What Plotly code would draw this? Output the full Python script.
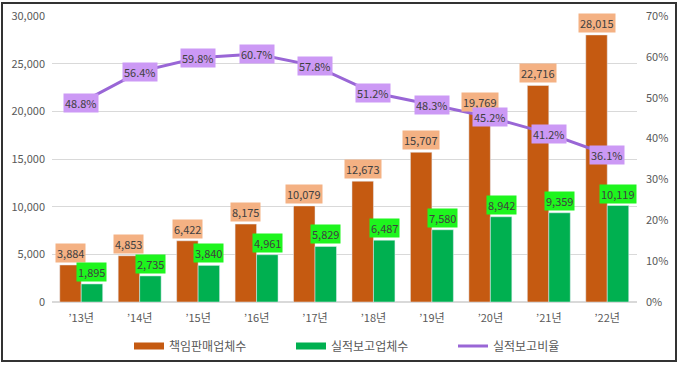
import plotly.graph_objects as go

years = ["’13년", "’14년", "’15년", "’16년", "’17년", "’18년", "’19년", "’20년", "’21년", "’22년"]
total = [3884, 4853, 6422, 8175, 10079, 12673, 15707, 19769, 22716, 28015]
reported = [1895, 2735, 3840, 4961, 5829, 6487, 7580, 8942, 9359, 10119]
ratio = [48.8, 56.4, 59.8, 60.7, 57.8, 51.2, 48.3, 45.2, 41.2, 36.1]

name_total = "책임판매업체수"
name_rep = "실적보고업체수"
name_ratio = "실적보고비율"

C_OR = "#C55A11"
C_GR = "#00B050"
C_PU = "#9966D6"
FONT = "Noto Sans CJK KR"
TXT = "#404040"

W, H = 680, 365
L, R, T, B = 52, 43, 16, 63
PW, PH = W - L - R, H - T - B

fig = go.Figure()
fig.add_trace(go.Bar(x=years, y=total, name=name_total, marker_color=C_OR,
                     showlegend=False, legendgroup="a"))
fig.add_trace(go.Bar(x=years, y=reported, name=name_rep, marker_color=C_GR,
                     showlegend=False, legendgroup="b"))
fig.add_trace(go.Scatter(x=years, y=ratio, name=name_ratio, yaxis="y2", mode="lines",
                         line=dict(color=C_PU, width=3), showlegend=False, legendgroup="c"))
# legend entries
fig.add_trace(go.Scatter(x=[None], y=[None], name=name_total, mode="lines",
                         line=dict(color=C_OR, width=7), legendgroup="a"))
fig.add_trace(go.Scatter(x=[None], y=[None], name=name_rep, mode="lines",
                         line=dict(color=C_GR, width=7), legendgroup="b"))
fig.add_trace(go.Scatter(x=[None], y=[None], name=name_ratio, mode="lines",
                         line=dict(color=C_PU, width=3), legendgroup="c"))

ann = []
for i, yv in enumerate(years):
    ann.append(dict(x=yv, y=total[i], xref="x", yref="y", text=f"{total[i]:,}",
                    showarrow=False, xshift=-10.75, yshift=12, bgcolor="#F4B183",
                    font=dict(family=FONT, size=11, color=TXT), borderpad=1))
    ann.append(dict(x=yv, y=reported[i], xref="x", yref="y", text=f"{reported[i]:,}",
                    showarrow=False, xshift=10.75, yshift=12, bgcolor="#1EF51E",
                    font=dict(family=FONT, size=11, color=TXT), borderpad=1))
    ann.append(dict(x=yv, y=ratio[i], xref="x", yref="y2", text=f"{ratio[i]:.1f}%",
                    showarrow=False, bgcolor="#CC99F5",
                    font=dict(family=FONT, size=11, color=TXT), borderpad=1))

def px_x(p):
    return (p - L) / PW

def px_y(p):
    return (H - B - p) / PH

fig.update_layout(
    width=W, height=H,
    margin=dict(l=L, r=R, t=T, b=B, autoexpand=False),
    paper_bgcolor="white", plot_bgcolor="white",
    barmode="group", bargap=0.265, bargroupgap=0,
    font=dict(family=FONT, size=11, color="#595959"),
    xaxis=dict(showgrid=False, showline=False, ticks="", automargin=False,
               ticklabelstandoff=8, tickfont=dict(size=11, color="#595959")),
    yaxis=dict(range=[0, 30000], dtick=5000, tickformat=",", showgrid=True,
               gridcolor="#D9D9D9", gridwidth=1, zeroline=True, zerolinecolor="#D9D9D9",
               showline=False, ticks="", ticklabelstandoff=6, automargin=False,
               tickfont=dict(size=11, color="#595959")),
    yaxis2=dict(range=[0, 70], dtick=10, ticksuffix="%", overlaying="y", side="right",
                showgrid=False, zeroline=False, showline=False, ticks="", automargin=False,
                ticklabelstandoff=8, tickfont=dict(size=11, color="#595959")),
    legend=dict(orientation="h", x=px_x(129), xanchor="left", y=px_y(346), yanchor="middle",
                font=dict(size=12, color="#595959"), entrywidth=117, entrywidthmode="pixels",
                bgcolor="rgba(0,0,0,0)", itemwidth=30),
    annotations=ann,
    shapes=[dict(type="rect", xref="paper", yref="paper",
                 x0=px_x(2), x1=px_x(676), y0=px_y(3), y1=px_y(361),
                 line=dict(color="#333333", width=2), fillcolor="rgba(0,0,0,0)", layer="below")],
)

fig.write_html("out.html", config={"displayModeBar": False},
               post_script="document.body.style.margin='0';document.body.style.overflow='hidden';")
